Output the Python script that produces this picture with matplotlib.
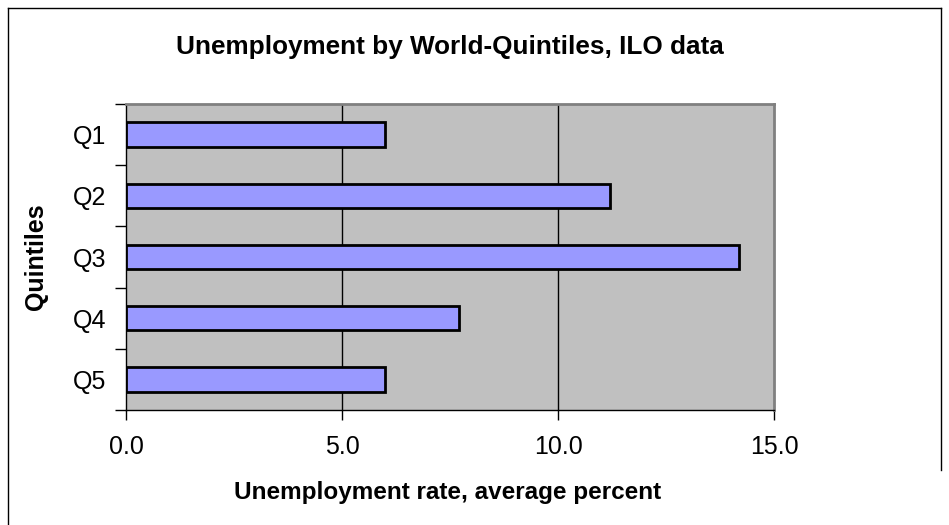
import matplotlib
matplotlib.use("Agg")
import matplotlib.pyplot as plt
from matplotlib.lines import Line2D

categories = ["Q1", "Q2", "Q3", "Q4", "Q5"]
values = [6.0, 11.2, 14.2, 7.7, 6.0]
xticks = [0, 5, 10, 15]
xticklabels = ["0.0", "5.0", "10.0", "15.0"]

plt.rcParams['font.family'] = ['Liberation Sans', 'DejaVu Sans']

W, H = 949, 525
fig = plt.figure(figsize=(W / 100, H / 100), dpi=100)
fig.patch.set_facecolor("white")

ax = fig.add_axes([126 / W, 1 - 410 / H, (774 - 126) / W, (410 - 104) / H])
ax.set_facecolor("#C0C0C0")

ypos = list(range(len(categories)))
ax.barh(ypos, values, height=0.4, color="#9999FF", edgecolor="black", linewidth=2, zorder=3)
ax.set_ylim(len(categories) - 0.5, -0.5)
ax.set_xlim(0, 15)

for g in [5, 10]:
    ax.axvline(g, color="black", linewidth=1, zorder=1)

ax.set_xticks(xticks)
ax.set_xticklabels(xticklabels, fontsize=18)
ax.set_yticks(ypos)
ax.set_yticklabels(categories, fontsize=18)
ax.tick_params(axis="y", length=0, pad=14)
ax.set_yticks([i - 0.5 for i in range(len(categories) + 1)], minor=True)
ax.tick_params(axis="y", which="minor", length=8, width=1, color="black", direction="out")
ax.tick_params(axis="x", length=7, width=1, color="black", direction="out", pad=11)

for side in ["top", "right"]:
    ax.spines[side].set_color("#808080")
    ax.spines[side].set_linewidth(2)
for side in ["left", "bottom"]:
    ax.spines[side].set_color("black")
    ax.spines[side].set_linewidth(1)

fig.text(448 / W, 1 - 492 / H, "Unemployment rate, average percent",
         fontsize=17.5, fontweight="bold", ha="center", va="center")
fig.text(36 / W, 1 - 257 / H, "Quintiles", rotation=90,
         fontsize=18, fontweight="bold", ha="center", va="center")

fig.text(450 / W, 1 - 47 / H, "Unemployment by World-Quintiles, ILO data",
         fontsize=18.8, fontweight="bold", ha="center", va="center")

# outer chart border
fig.add_artist(Line2D([8 / W, 8 / W], [0, 1 - 8 / H], transform=fig.transFigure, color="black", linewidth=1))
fig.add_artist(Line2D([8 / W, 941 / W], [1 - 8 / H, 1 - 8 / H], transform=fig.transFigure, color="black", linewidth=1))
fig.add_artist(Line2D([941 / W, 941 / W], [1 - 8 / H, 1 - 470 / H], transform=fig.transFigure, color="black", linewidth=1))

fig.savefig("out.png", dpi=100)
